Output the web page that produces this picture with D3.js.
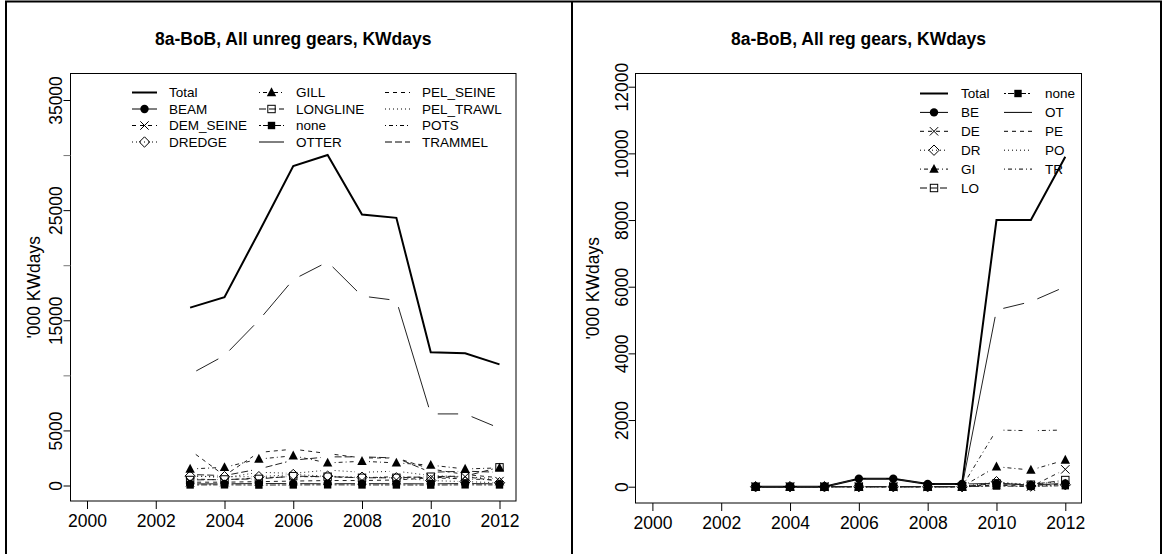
<!DOCTYPE html>
<html><head><meta charset="utf-8">
<script src="https://cdn.jsdelivr.net/npm/d3@7"></script>
<style>body{margin:0;background:#fff}svg{display:block;font-family:"Liberation Sans",Arial,sans-serif}</style>
</head><body><svg id="c" width="1164" height="554"></svg>
<script>
// ---------------- data ----------------
const years = [2003,2004,2005,2006,2007,2008,2009,2010,2011,2012];
const xTicks = [2000,2002,2004,2006,2008,2010,2012];

// Left panel: all unregulated gears
const unregTitle = "8a-BoB, All unreg gears, KWdays";
const unregNames = ["Total","BEAM","DEM_SEINE","DREDGE","GILL","LONGLINE","none","OTTER","PEL_SEINE","PEL_TRAWL","POTS","TRAMMEL"];
const unregTotal     = [16150,17100,23000,29000,30000,24600,24300,12100,12000,11000];
const unregBeam      = [150,150,180,170,160,170,160,150,180,150];
const unregDemSeine  = [300,300,350,400,450,450,500,700,800,400];
const unregDredge    = [850,800,800,1000,850,750,700,450,350,250];
const unregGill      = [1500,1650,2400,2700,2050,2200,2050,1850,1500,1600];
const unregLongline  = [500,550,600,850,800,700,700,800,850,1650];
const unregNone      = [50,60,40,50,60,50,50,40,60,50];
const unregOtter     = [10100,11800,15000,18700,20300,17200,16800,6500,6500,5200];
const unregPelSeine  = [3200,900,3000,3300,2900,2500,2500,1500,1000,700];
const unregPelTrawl  = [900,700,1200,1100,1400,1200,1300,900,800,600];
const unregPots      = [600,500,700,800,800,700,800,700,600,500];
const unregTrammel   = [1000,900,1500,2300,2600,2600,2500,1200,1300,1200];
const unregYTicks    = [0,5000,10000,15000,20000,25000,30000,35000];
const unregYLabels   = [0,5000,15000,25000,35000];

// Right panel: all regulated gears
const regTitle = "8a-BoB, All reg gears, KWdays";
const regNames = ["Total","BE","DE","DR","GI","LO","none","OT","PE","PO","TR"];
const regTotal = [0,0,0,240,240,80,80,8000,8000,9900];
const regBE    = [0,0,0,240,240,80,80,100,50,100];
const regDE    = [0,0,0,0,0,0,0,50,0,520];
const regDR    = [0,0,0,0,0,0,0,150,20,60];
const regGI    = [0,0,0,0,0,0,0,600,500,800];
const regLO    = [0,0,0,0,0,0,0,100,60,200];
const regNone  = [0,0,0,0,0,0,0,20,10,30];
const regOT    = [0,0,0,0,0,0,0,5300,5550,6000];
const regPE    = [0,0,0,0,0,0,0,60,40,80];
const regPO    = [0,0,0,0,0,0,0,120,80,150];
const regTR    = [0,0,0,0,0,0,0,1700,1680,1700];
const regYTicks = [0,2000,4000,6000,8000,10000,12000];
const regYLabels = [0,2000,4000,6000,8000,10000,12000];

// ---------------- styles (R-like) ----------------
const ltyDash = {solid:null, dashed:"4,4", dotted:"1,3", dotdash:"1,3,4,3", longdash:"7,3", twodash:"2,2,6,2"};
const gearLty = ["solid","dashed","dotted","dotdash","longdash","twodash"];
const gearPch = ["circle","cross","diamond","triangle","square","fsquare"];

const svg = d3.select("#c");
svg.append("rect").attr("width",1164).attr("height",554).attr("fill","#fff");

function drawSymbol(g, type, x, y){
  const s = 4.2;
  if(type==="circle") g.append("circle").attr("cx",x).attr("cy",y).attr("r",s).attr("fill","#000");
  else if(type==="cross") g.append("path").attr("d",`M${x-s},${y-s}L${x+s},${y+s}M${x-s},${y+s}L${x+s},${y-s}`).attr("stroke","#000").attr("stroke-width",1).attr("fill","none");
  else if(type==="diamond") g.append("path").attr("d",`M${x},${y-s-1}L${x+s+1},${y}L${x},${y+s+1}L${x-s-1},${y}Z`).attr("stroke","#000").attr("fill","none");
  else if(type==="triangle") g.append("path").attr("d",`M${x},${y-s-1}L${x+s+0.5},${y+s-0.5}L${x-s-0.5},${y+s-0.5}Z`).attr("fill","#000");
  else if(type==="square") g.append("rect").attr("x",x-s+0.5).attr("y",y-s+0.5).attr("width",2*s-1).attr("height",2*s-1).attr("stroke","#000").attr("fill","none");
  else if(type==="fsquare") g.append("rect").attr("x",x-s+0.5).attr("y",y-s+0.5).attr("width",2*s-1).attr("height",2*s-1).attr("fill","#000");
}

function panel(cfg){
  const g = svg.append("g");
  const x = d3.scaleLinear().domain([2000,2012]).range(cfg.xr);
  const y = d3.scaleLinear().domain([cfg.yTicks[0], cfg.yTicks[cfg.yTicks.length-1]]).range(cfg.yr);
  const [bx0,bx1,by0,by1] = cfg.box;
  // title
  g.append("text").attr("x",(bx0+bx1)/2).attr("y",45).attr("text-anchor","middle")
    .attr("font-weight","bold").attr("font-size",17.5).text(cfg.title);
  // box
  g.append("rect").attr("x",bx0).attr("y",by0).attr("width",bx1-bx0).attr("height",by1-by0)
    .attr("fill","none").attr("stroke","#000").attr("stroke-width",1);
  // x axis
  const xa = g.append("g").attr("transform",`translate(0,${by1})`)
    .call(d3.axisBottom(x).tickValues(xTicks).tickFormat(d3.format("d")).tickSize(8).tickSizeOuter(0));
  xa.select(".domain").remove();
  xa.selectAll("text").attr("font-size",17.5).attr("font-family","Liberation Sans, Arial").attr("dy",0).attr("y",25.5);
  // y axis
  const ya = g.append("g").attr("transform",`translate(${bx0},0)`)
    .call(d3.axisLeft(y).tickValues(cfg.yTicks).tickSize(7).tickFormat(d=> cfg.yLabels.includes(d)? String(d):""));
  ya.select(".domain").remove();
  ya.selectAll(".tick line").attr("stroke",d=> cfg.yLabels.includes(d)?"#000":"#777");
  ya.selectAll("text").attr("font-size",17.5).attr("font-family","Liberation Sans, Arial")
    .attr("text-anchor","middle").attr("x",0).attr("dy",0)
    .attr("transform",function(){ return `translate(${cfg.ytx-bx0},0) rotate(-90)`;})
    .attr("y",0);
  // y label
  g.append("text").attr("transform",`translate(${cfg.ylx},${(by0+by1)/2}) rotate(-90)`)
    .attr("text-anchor","middle").attr("font-size",17.5).text("'000 KWdays");

  // series
  const line = d3.line().x(d=>x(d[0])).y(d=>y(d[1]));
  cfg.series.forEach((s,i)=>{
    const pts = years.map((yr,k)=>[yr,s.values[k]]);
    if(s.name==="Total"){
      g.append("path").attr("d",line(pts)).attr("fill","none").attr("stroke","#000").attr("stroke-width",2);
      return;
    }
    const gap = 7;
    for(let k=0;k<pts.length-1;k++){
      const x1=x(pts[k][0]), y1=y(pts[k][1]), x2=x(pts[k+1][0]), y2=y(pts[k+1][1]);
      const L=Math.hypot(x2-x1,y2-y1); if(L<=2*gap) continue;
      const ux=(x2-x1)/L, uy=(y2-y1)/L;
      g.append("line").attr("x1",x1+ux*gap).attr("y1",y1+uy*gap).attr("x2",x2-ux*gap).attr("y2",y2-uy*gap)
        .attr("stroke","#222").attr("stroke-width",1).attr("stroke-dasharray",ltyDash[s.lty]);
    }
    if(s.pch) pts.forEach(p=>drawSymbol(g,s.pch,x(p[0]),y(p[1])));
  });

  // legend
  const L = cfg.legend;
  cfg.series.forEach((s,i)=>{
    const col = Math.floor(i/L.rows), row = i%L.rows;
    const lx = L.cols[col], ly = L.y0 + row*L.dy;
    const l = g.append("line").attr("x1",lx).attr("x2",lx+L.len).attr("y1",ly).attr("y2",ly)
      .attr("stroke","#000").attr("stroke-width",s.name==="Total"?2:1);
    if(s.name!=="Total" && ltyDash[s.lty]) l.attr("stroke-dasharray",ltyDash[s.lty]);
    if(s.pch) drawSymbol(g,s.pch,lx+L.len/2,ly);
    g.append("text").attr("x",lx+L.len+L.tgap).attr("y",ly+4.5).attr("font-size",13.5).text(s.name);
  });
}

function buildSeries(names, arrays){
  return names.map((n,i)=>({
    name:n, values:arrays[i],
    lty: i===0?"solid":gearLty[(i-1)%6],
    pch: i===0?null:((i-1)<6?gearPch[i-1]:null)
  }));
}

// frame
svg.append("path").attr("d","M6,554L6,1.5L1161,1.5L1161,554").attr("fill","none").attr("stroke","#000").attr("stroke-width",2);
svg.append("line").attr("x1",572).attr("x2",572).attr("y1",1).attr("y2",554).attr("stroke","#000").attr("stroke-width",2);

panel({
  title: unregTitle,
  xr:[87,499.5], yr:[485.5,100], box:[70.5,516,73.5,501], ytx:61.5, ylx:40,
  yTicks: unregYTicks, yLabels: unregYLabels,
  series: buildSeries(unregNames,[unregTotal,unregBeam,unregDemSeine,unregDredge,unregGill,unregLongline,unregNone,unregOtter,unregPelSeine,unregPelTrawl,unregPots,unregTrammel]),
  legend:{cols:[132,259,385], y0:92.5, dy:16.5, rows:4, len:25, tgap:12}
});
panel({
  title: regTitle,
  xr:[652.4,1065.3], yr:[486.7,86.7], box:[635.5,1081.5,73.5,503], ytx:628, ylx:599,
  yTicks: regYTicks, yLabels: regYLabels,
  series: buildSeries(regNames,[regTotal,regBE,regDE,regDR,regGI,regLO,regNone,regOT,regPE,regPO,regTR]),
  legend:{cols:[920,1004], y0:93.5, dy:18.9, rows:6, len:28, tgap:13}
});
</script></body></html>
